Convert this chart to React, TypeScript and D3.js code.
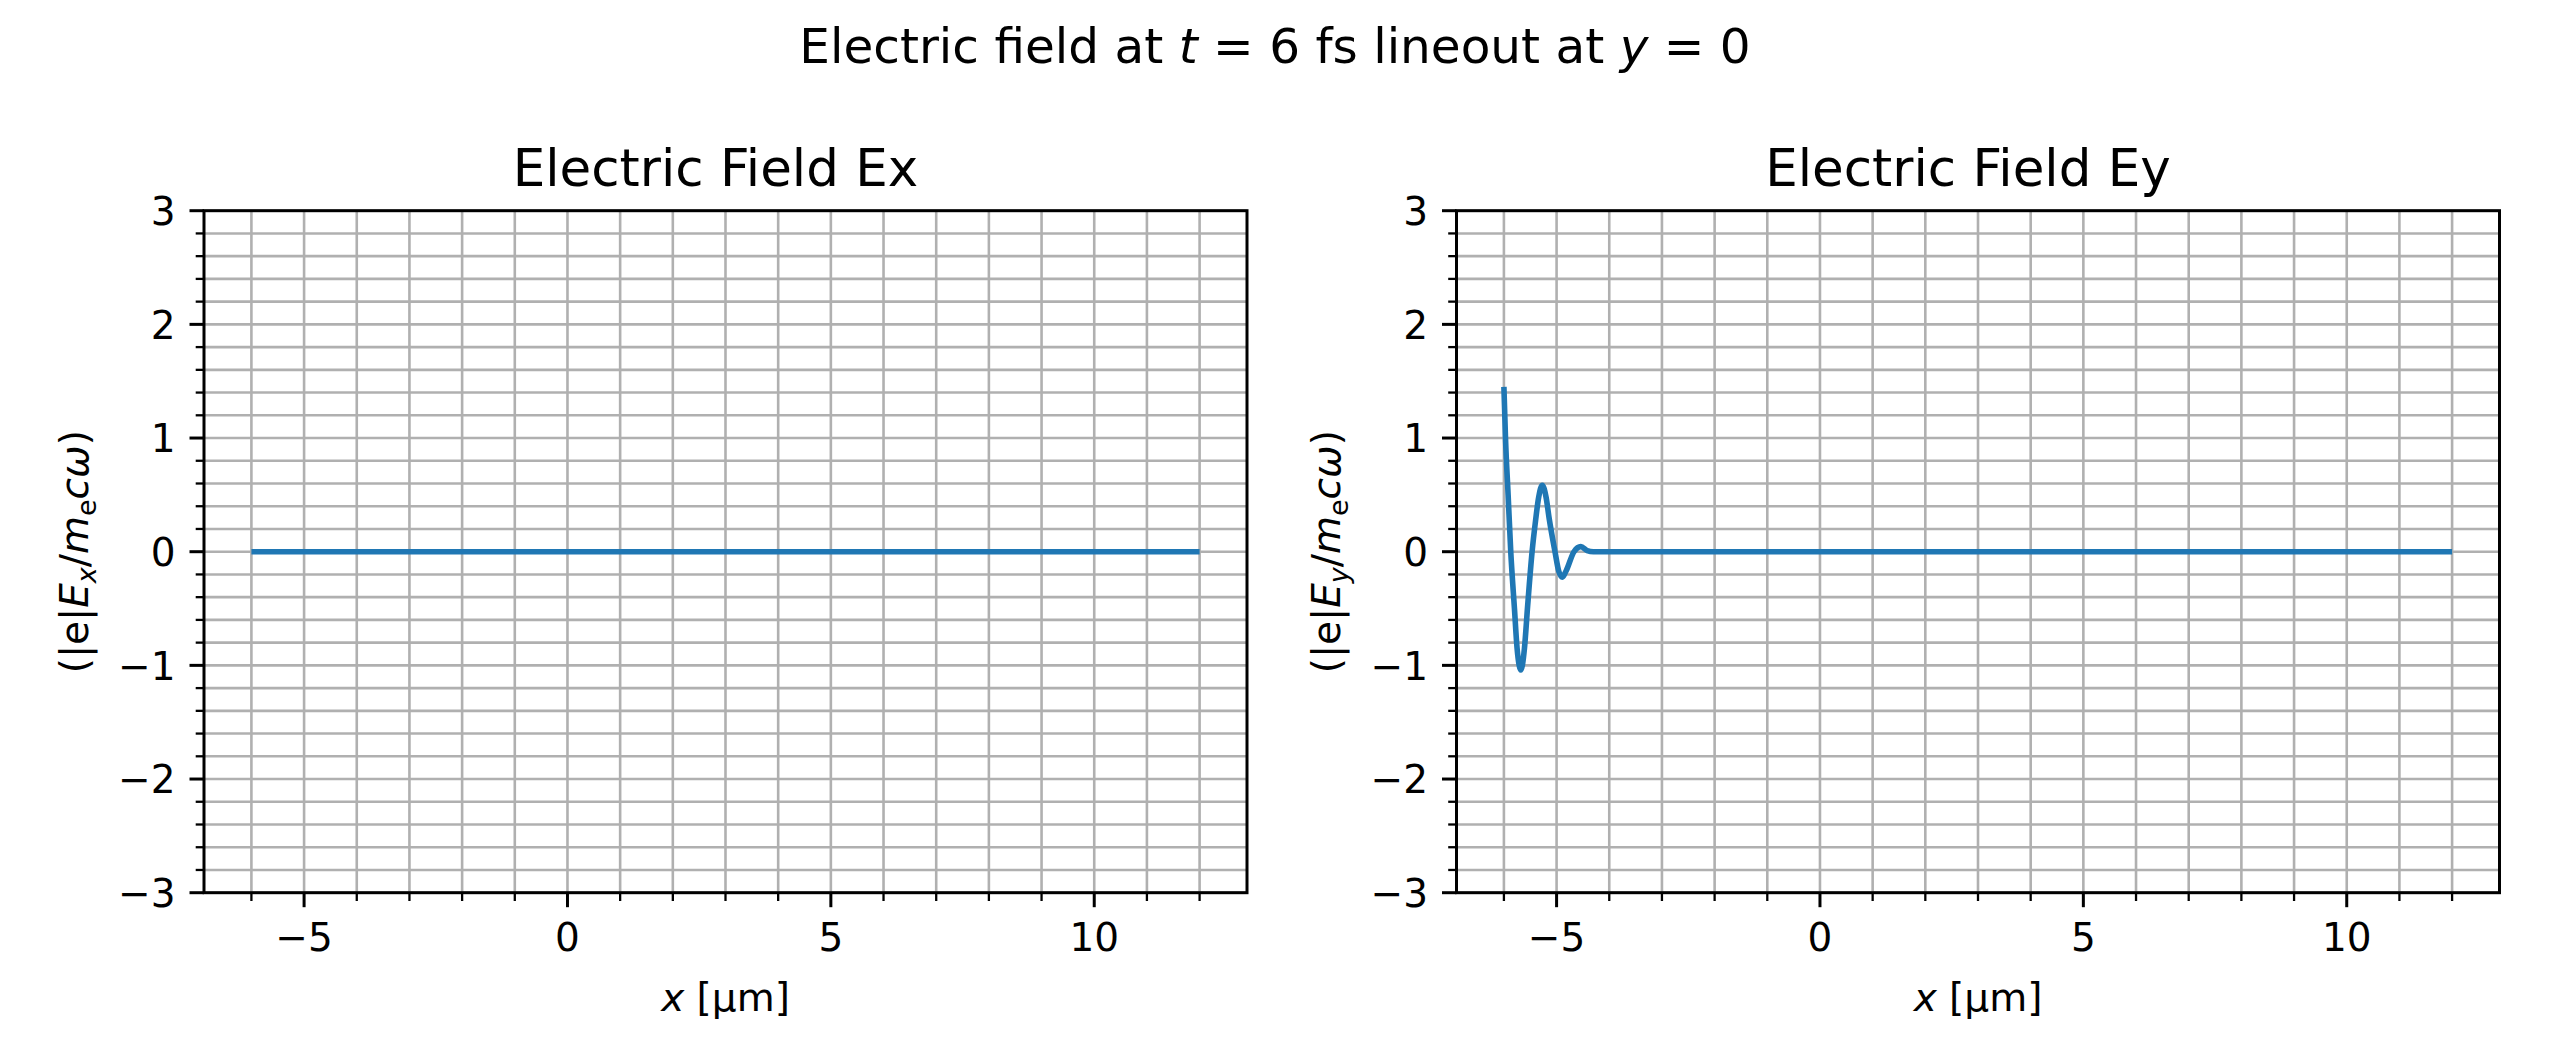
import React from 'react';
import * as d3 from 'd3';

// ---- data ----
const xDomain: [number, number] = [-6.9, 12.9];
const yDomain: [number, number] = [-3, 3];
const xMajorTicks = [-5, 0, 5, 10];
const xMinorTicks = [-6, -4, -3, -2, -1, 1, 2, 3, 4, 6, 7, 8, 9, 11, 12];
const yMajorTicks = [-3, -2, -1, 0, 1, 2, 3];
const yMinorTicks = [-2.8, -2.6, -2.4, -2.2, -1.8, -1.6, -1.4, -1.2, -0.8, -0.6, -0.4, -0.2,
  0.2, 0.4, 0.6, 0.8, 1.2, 1.4, 1.6, 1.8, 2.2, 2.4, 2.6, 2.8];

const exX = [-6, 12];
const exY = [0, 0];

const eyX = [-6.0, -5.97, -5.92, -5.87, -5.8, -5.75, -5.71, -5.68, -5.65, -5.61, -5.55, -5.465,
  -5.4, -5.34, -5.27, -5.2, -5.14, -5.03, -4.96, -4.89, -4.82, -4.67, -4.54, -4.42, -4.3, 12];
const eyY = [1.45, 1.0, 0.5, 0.0, -0.5, -0.85, -1.0, -1.04, -1.0, -0.85, -0.48, 0.0,
  0.27, 0.48, 0.585, 0.48, 0.29, 0.0, -0.17, -0.225, -0.17, 0.0, 0.045, 0.01, 0.0, 0.0];

const FONT = "'DejaVu Sans', sans-serif";
const fmt = (v: number) => (v < 0 ? '\u2212' + Math.abs(v) : String(v));

type PanelProps = { left: number; title: string; sub: string; xs: number[]; ys: number[] };

function Panel({ left, title, sub, xs, ys }: PanelProps) {
  const width = 1043;
  const top = 210.7;
  const bottom = 892.7;
  const x = d3.scaleLinear().domain(xDomain).range([left, left + width]);
  const y = d3.scaleLinear().domain(yDomain).range([bottom, top]);
  const pts = xs.map((v, i) => [v, ys[i]] as [number, number]);
  const path = d3
    .line<[number, number]>()
    .x((d) => x(d[0]))
    .y((d) => y(d[1]))
    .curve(d3.curveMonotoneX)(pts) as string;
  const gridX = [...xMajorTicks, ...xMinorTicks];
  const gridY = [...yMajorTicks, ...yMinorTicks];
  const cx = left + width / 2;
  const cy = (top + bottom) / 2;
  const lx = left - 116.5;
  return (
    <g>
      {gridX.map((t) => (
        <line key={'gx' + t} x1={x(t)} x2={x(t)} y1={top} y2={bottom} stroke="#b0b0b0" strokeWidth={2.6} />
      ))}
      {gridY.map((t) => (
        <line key={'gy' + t} x1={left} x2={left + width} y1={y(t)} y2={y(t)} stroke="#b0b0b0" strokeWidth={2.6} />
      ))}
      <path d={path} fill="none" stroke="#1f77b4" strokeWidth={5.6} strokeLinejoin="round" />
      <rect x={left} y={top} width={width} height={bottom - top} fill="none" stroke="#000" strokeWidth={3} />
      {xMajorTicks.map((t) => (
        <g key={'xm' + t}>
          <line x1={x(t)} x2={x(t)} y1={bottom} y2={bottom + 14.5} stroke="#000" strokeWidth={3} />
          <text x={x(t)} y={951} textAnchor="middle" fontSize={39} fontFamily={FONT}>{fmt(t)}</text>
        </g>
      ))}
      {xMinorTicks.map((t) => (
        <line key={'xn' + t} x1={x(t)} x2={x(t)} y1={bottom} y2={bottom + 8.3} stroke="#000" strokeWidth={2.3} />
      ))}
      {yMajorTicks.map((t) => (
        <g key={'ym' + t}>
          <line x1={left - 14.5} x2={left} y1={y(t)} y2={y(t)} stroke="#000" strokeWidth={3} />
          <text x={left - 28.5} y={y(t) + 14.3} textAnchor="end" fontSize={39} fontFamily={FONT}>{fmt(t)}</text>
        </g>
      ))}
      {yMinorTicks.map((t) => (
        <line key={'yn' + t} x1={left - 8.3} x2={left} y1={y(t)} y2={y(t)} stroke="#000" strokeWidth={2.3} />
      ))}
      <text x={cx - 10} y={186} textAnchor="middle" fontSize={51.5} fontFamily={FONT}>{title}</text>
      <text x={cx} y={1011} textAnchor="middle" fontSize={39} fontFamily={FONT}>
        <tspan fontStyle="italic">x</tspan>
        <tspan> [μm]</tspan>
      </text>
      <text transform={`translate(${lx},${cy}) rotate(-90)`} textAnchor="middle" fontSize={39} fontFamily={FONT}>
        <tspan>(|e|</tspan>
        <tspan fontStyle="italic">E</tspan>
        <tspan fontStyle="italic" fontSize={27} dy={8}>{sub}</tspan>
        <tspan dy={-8}>/</tspan>
        <tspan fontStyle="italic">m</tspan>
        <tspan fontSize={27} dy={8}>e</tspan>
        <tspan fontStyle="italic" dy={-8}>cω</tspan>
        <tspan>)</tspan>
      </text>
    </g>
  );
}

export default function App() {
  return (
    <svg
      width={2550}
      height={1050}
      style={{ position: 'absolute', left: 0, top: 0, background: '#fff' }}
    >
      <rect x={0} y={0} width={2550} height={1050} fill="#fff" />
      <text x={1275} y={63} textAnchor="middle" fontSize={48.5} fontFamily={FONT}>
        <tspan>Electric field at </tspan>
        <tspan fontStyle="italic">t</tspan>
        <tspan> = 6 fs lineout at </tspan>
        <tspan fontStyle="italic">y</tspan>
        <tspan> = 0</tspan>
      </text>
      <Panel left={204} title="Electric Field Ex" sub="x" xs={exX} ys={exY} />
      <Panel left={1456.5} title="Electric Field Ey" sub="y" xs={eyX} ys={eyY} />
    </svg>
  );
}
